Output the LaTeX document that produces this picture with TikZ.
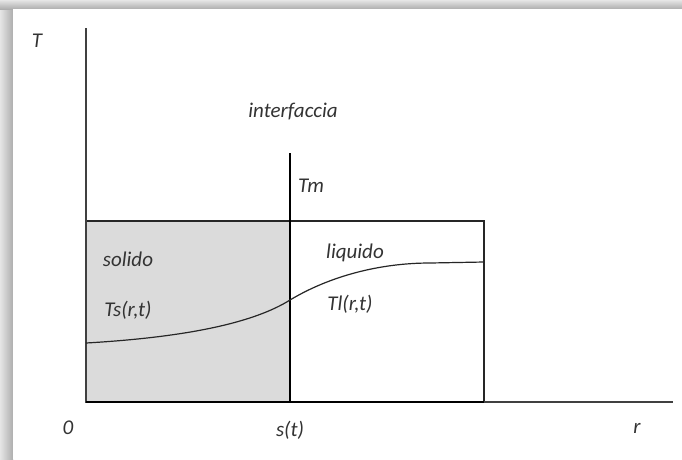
\documentclass[tikz,border=0pt]{standalone}
\usepackage{fontspec}
\setmainfont{Carlito}
\begin{document}
\begin{tikzpicture}[x=1pt,y=-1pt,
  lbl/.style={font=\fontsize{21}{24}\selectfont\itshape, text=black!80, inner sep=0pt},
  axis/.style={line width=1.4pt, draw=black!75},
  thin box/.style={line width=1.3pt, draw=black!85},
  thick line/.style={line width=2.8pt, draw=black}]
\useasboundingbox (0,0) rectangle (682,459);
% shadow frame
\shade[left color=black!10, right color=black!32] (0,0) rectangle (13,459);
\shade[top color=black!10, bottom color=black!32] (0,0) rectangle (682,9);
\fill[white] (13,9) rectangle (682,459);
% coordinates
\coordinate (O) at (86,402);
\coordinate (Ytop) at (86,28);
\coordinate (Xend) at (673,402);
\coordinate (S) at (290,402);
\coordinate (Stop) at (290,153);
\coordinate (Sbox) at (290,221);
\coordinate (Rb) at (484,402);
\coordinate (Rt) at (484,221);
\coordinate (Lt) at (86,221);
% solid region
\fill[black!14] (O) rectangle (Sbox);
% box outline
\draw[thin box] (Lt) -- (Rt) -- (Rb);
% axes
\draw[axis] (Ytop) -- (O) -- (Xend);
\draw[thick line] (O) -- (Rb);
\draw[thick line] (S) -- (Stop);
% temperature curve
\draw[line width=1.2pt, black!85] (86,343) .. controls (190,337) and (255,322) .. (290,300)
  .. controls (330,276) and (380,263) .. (430,263) -- (484,262);
% labels
\node[lbl] (T) at (37,41) {T};
\node[lbl] (interf) at (293,111) {interfaccia};
\node[lbl] (Tm) at (311,186) {Tm};
\node[lbl] (solido) at (128,259) {solido};
\node[lbl] (liquido) at (355,253) {liquido};
\node[lbl] (Ts) at (128,310) {Ts(r,t)};
\node[lbl] (Tl) at (350,304) {Tl(r,t)};
\node[lbl] (zero) at (68,428) {0};
\node[lbl] (st) at (290,430) {s(t)};
\node[lbl] (r) at (637,428) {r};
\end{tikzpicture}
\end{document}
